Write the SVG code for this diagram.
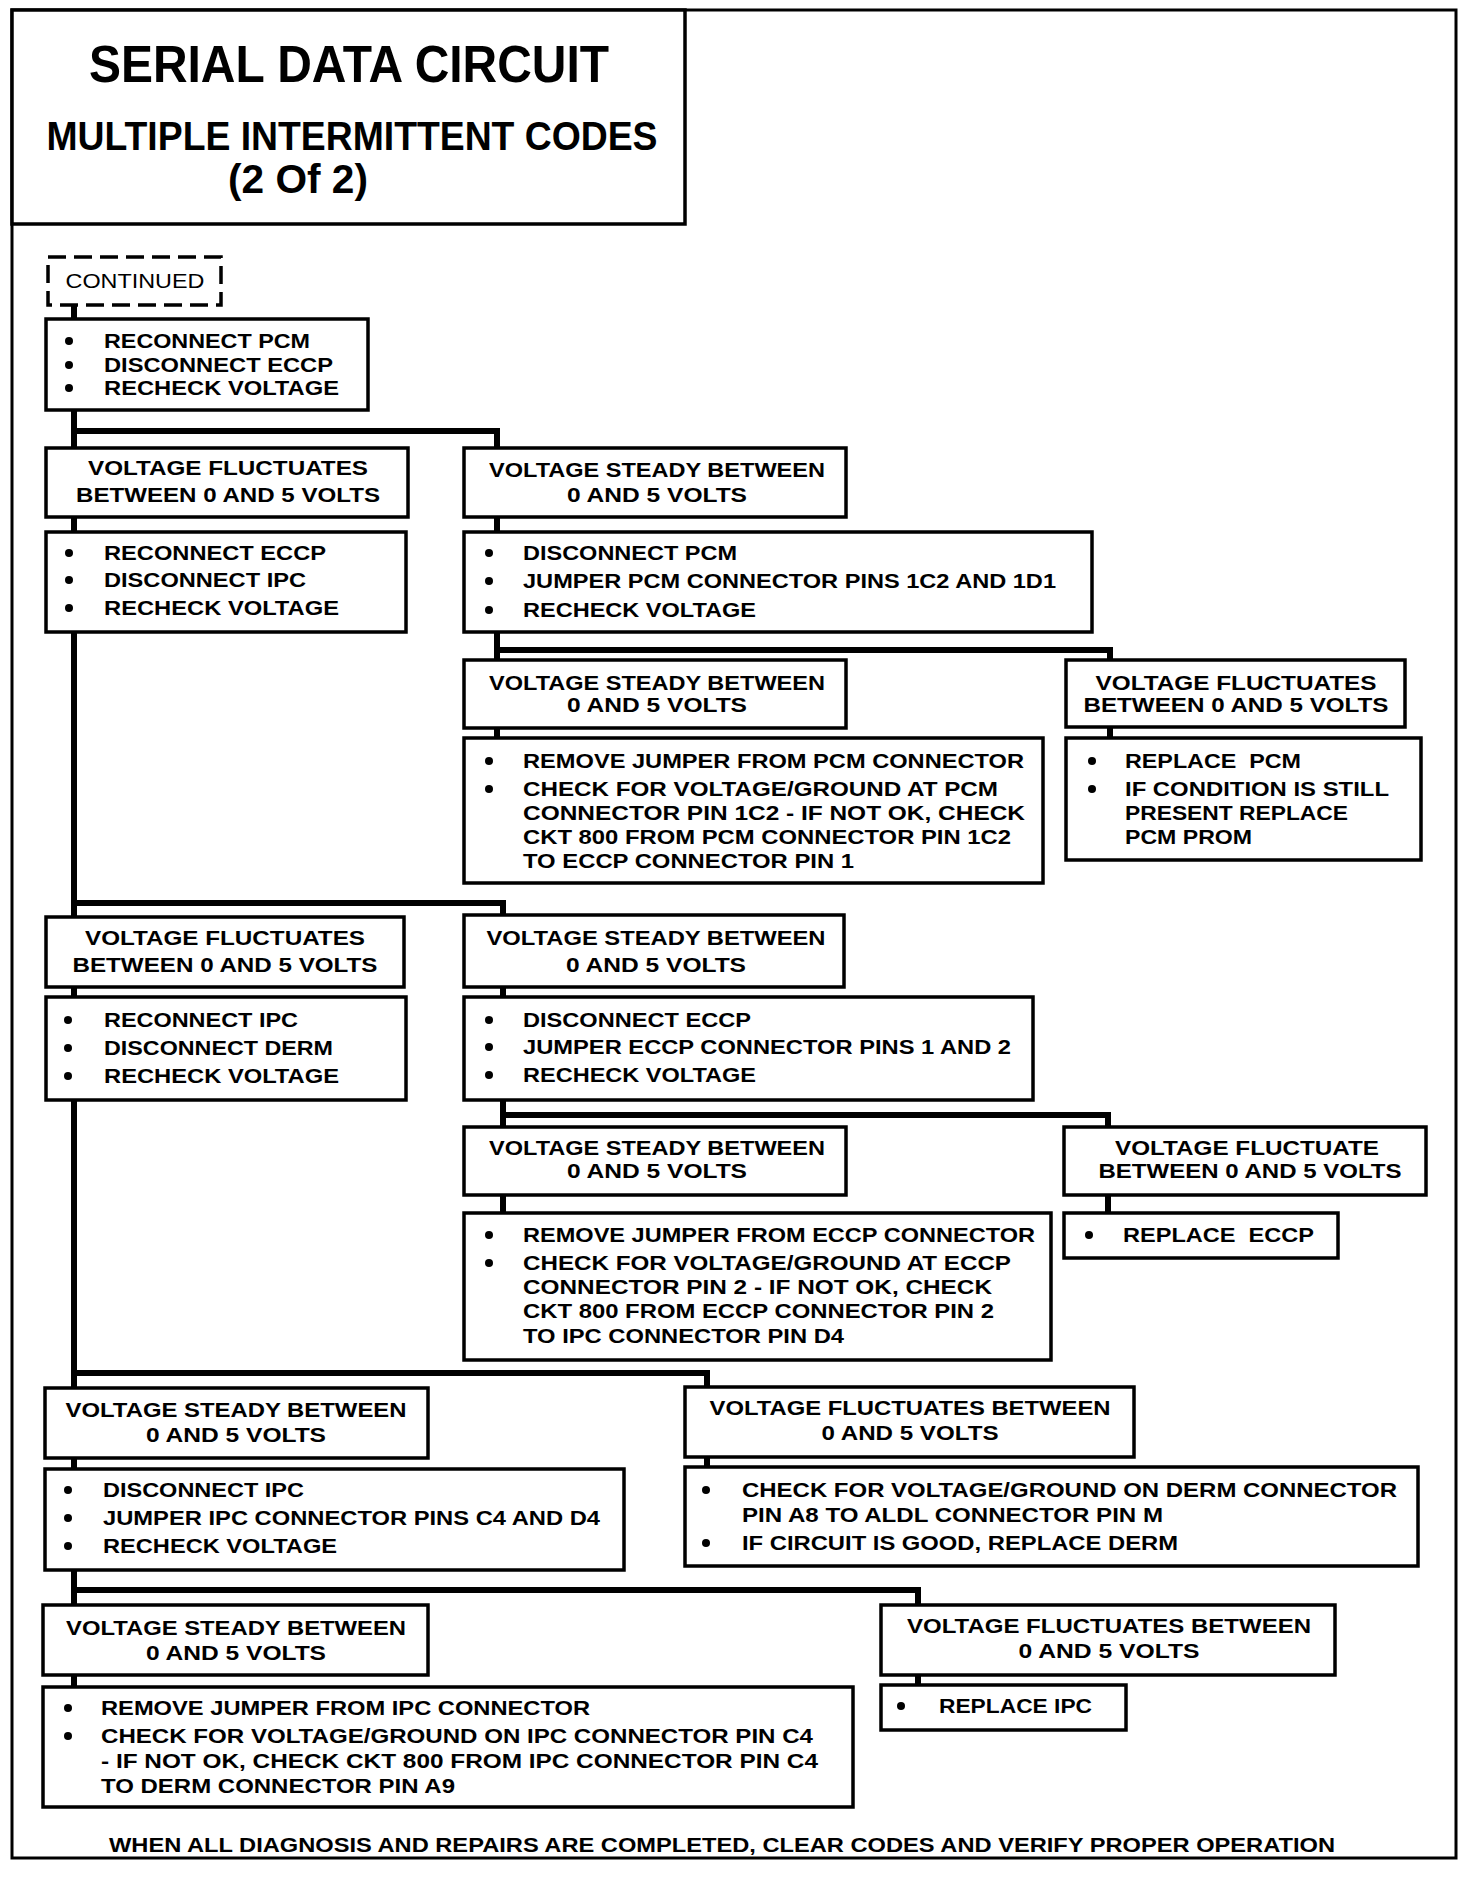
<svg xmlns="http://www.w3.org/2000/svg" xmlns:xlink="http://www.w3.org/1999/xlink" width="1472" height="1892" viewBox="0 0 1472 1892">
<style>
.frame{fill:none;stroke:#000;stroke-width:3}
.box{fill:#fff;stroke:#000;stroke-width:3.5}
.dash{fill:#fff;stroke:#000;stroke-width:3.5;stroke-dasharray:18 8}
.conn{fill:none;stroke:#000;stroke-width:6;stroke-linejoin:miter;stroke-linecap:square}
text{font-family:"Liberation Sans",Arial,Helvetica,sans-serif;font-weight:bold;font-size:21px;fill:#000}
.c{text-anchor:middle}
.n{font-weight:normal}
.h1{font-size:52px}
.h2{font-size:40px}
</style>
<defs>
<circle id="b" r="4" fill="#000"/>
</defs>
<rect width="1472" height="1892" fill="#fff"/>
<rect class="frame" x="12" y="10" width="1444" height="1848"/>

<g id="title">
<rect class="box" x="12" y="10" width="673" height="214"/>
<text class="c h1" x="349" y="82" textLength="520" lengthAdjust="spacingAndGlyphs">SERIAL DATA CIRCUIT</text>
<text class="c h2" x="352" y="150" textLength="611" lengthAdjust="spacingAndGlyphs">MULTIPLE INTERMITTENT CODES</text>
<text class="c h2" x="298" y="193" textLength="140" lengthAdjust="spacingAndGlyphs">(2 Of 2)</text>
</g>

<g id="connectors">
<path class="conn" d="M74 305V319M74 410V448M74 517V532M74 632V917M74 987V997M74 1100V1388M74 1458V1469M74 1570V1605M74 1675V1687"/>
<path class="conn" d="M74 431H497V448M497 517V532M497 632V660M497 728V738M497 650H1110V660M1110 727V738"/>
<path class="conn" d="M74 903H503V915M503 987V997M503 1100V1127M503 1195V1213M503 1115H1108V1127M1108 1195V1213"/>
<path class="conn" d="M74 1373H707V1387M707 1457V1467"/>
<path class="conn" d="M74 1590H918V1605M918 1675V1685"/>
</g>

<g id="continued">
<rect class="dash" x="48" y="257" width="173" height="48"/>
<text class="c n" x="135" y="288" textLength="139" lengthAdjust="spacingAndGlyphs">CONTINUED</text>
</g>

<g id="n1">
<rect class="box" x="46" y="319" width="322" height="91"/>
<use xlink:href="#b" x="69" y="341"/><use xlink:href="#b" x="69" y="365"/><use xlink:href="#b" x="69" y="388"/>
<text x="104" y="348" textLength="206" lengthAdjust="spacingAndGlyphs">RECONNECT PCM</text>
<text x="104" y="372" textLength="229" lengthAdjust="spacingAndGlyphs">DISCONNECT ECCP</text>
<text x="104" y="395" textLength="235" lengthAdjust="spacingAndGlyphs">RECHECK VOLTAGE</text>
</g>

<g id="n2L">
<rect class="box" x="46" y="448" width="362" height="69"/>
<text class="c" x="228" y="475" textLength="280" lengthAdjust="spacingAndGlyphs">VOLTAGE FLUCTUATES</text>
<text class="c" x="228" y="502" textLength="304" lengthAdjust="spacingAndGlyphs">BETWEEN 0 AND 5 VOLTS</text>
</g>

<g id="n3L">
<rect class="box" x="46" y="532" width="360" height="100"/>
<use xlink:href="#b" x="69" y="553"/><use xlink:href="#b" x="69" y="580"/><use xlink:href="#b" x="69" y="608"/>
<text x="104" y="560" textLength="222" lengthAdjust="spacingAndGlyphs">RECONNECT ECCP</text>
<text x="104" y="587" textLength="202" lengthAdjust="spacingAndGlyphs">DISCONNECT IPC</text>
<text x="104" y="615" textLength="235" lengthAdjust="spacingAndGlyphs">RECHECK VOLTAGE</text>
</g>

<g id="n2R">
<rect class="box" x="464" y="448" width="382" height="69"/>
<text class="c" x="657" y="477" textLength="336" lengthAdjust="spacingAndGlyphs">VOLTAGE STEADY BETWEEN</text>
<text class="c" x="657" y="502" textLength="180" lengthAdjust="spacingAndGlyphs">0 AND 5 VOLTS</text>
</g>

<g id="n3R">
<rect class="box" x="464" y="532" width="628" height="100"/>
<use xlink:href="#b" x="489" y="553"/><use xlink:href="#b" x="489" y="581"/><use xlink:href="#b" x="489" y="610"/>
<text x="523" y="560" textLength="214" lengthAdjust="spacingAndGlyphs">DISCONNECT PCM</text>
<text x="523" y="588" textLength="533" lengthAdjust="spacingAndGlyphs">JUMPER PCM CONNECTOR PINS 1C2 AND 1D1</text>
<text x="523" y="617" textLength="233" lengthAdjust="spacingAndGlyphs">RECHECK VOLTAGE</text>
</g>

<g id="n4R">
<rect class="box" x="464" y="660" width="382" height="68"/>
<text class="c" x="657" y="690" textLength="336" lengthAdjust="spacingAndGlyphs">VOLTAGE STEADY BETWEEN</text>
<text class="c" x="657" y="712" textLength="180" lengthAdjust="spacingAndGlyphs">0 AND 5 VOLTS</text>
</g>

<g id="n4RR">
<rect class="box" x="1066" y="660" width="339" height="67"/>
<text class="c" x="1236" y="690" textLength="281" lengthAdjust="spacingAndGlyphs">VOLTAGE FLUCTUATES</text>
<text class="c" x="1236" y="712" textLength="305" lengthAdjust="spacingAndGlyphs">BETWEEN 0 AND 5 VOLTS</text>
</g>

<g id="n5R">
<rect class="box" x="464" y="738" width="579" height="145"/>
<use xlink:href="#b" x="489" y="761"/><use xlink:href="#b" x="489" y="789"/>
<text x="523" y="768" textLength="501" lengthAdjust="spacingAndGlyphs">REMOVE JUMPER FROM PCM CONNECTOR</text>
<text x="523" y="796" textLength="475" lengthAdjust="spacingAndGlyphs">CHECK FOR VOLTAGE/GROUND AT PCM</text>
<text x="523" y="820" textLength="502" lengthAdjust="spacingAndGlyphs">CONNECTOR PIN 1C2 - IF NOT OK, CHECK</text>
<text x="523" y="844" textLength="488" lengthAdjust="spacingAndGlyphs">CKT 800 FROM PCM CONNECTOR PIN 1C2</text>
<text x="523" y="868" textLength="331" lengthAdjust="spacingAndGlyphs">TO ECCP CONNECTOR PIN 1</text>
</g>

<g id="n6R">
<rect class="box" x="1066" y="738" width="355" height="122"/>
<use xlink:href="#b" x="1092" y="761"/><use xlink:href="#b" x="1092" y="789"/>
<text x="1125" y="768" textLength="176" lengthAdjust="spacingAndGlyphs" xml:space="preserve">REPLACE  PCM</text>
<text x="1125" y="796" textLength="264" lengthAdjust="spacingAndGlyphs">IF CONDITION IS STILL</text>
<text x="1125" y="820" textLength="223" lengthAdjust="spacingAndGlyphs">PRESENT REPLACE</text>
<text x="1125" y="844" textLength="127" lengthAdjust="spacingAndGlyphs">PCM PROM</text>
</g>

<g id="n7L">
<rect class="box" x="46" y="917" width="358" height="70"/>
<text class="c" x="225" y="945" textLength="280" lengthAdjust="spacingAndGlyphs">VOLTAGE FLUCTUATES</text>
<text class="c" x="225" y="972" textLength="305" lengthAdjust="spacingAndGlyphs">BETWEEN 0 AND 5 VOLTS</text>
</g>

<g id="n8L">
<rect class="box" x="46" y="997" width="360" height="103"/>
<use xlink:href="#b" x="68" y="1020"/><use xlink:href="#b" x="68" y="1048"/><use xlink:href="#b" x="68" y="1076"/>
<text x="104" y="1027" textLength="194" lengthAdjust="spacingAndGlyphs">RECONNECT IPC</text>
<text x="104" y="1055" textLength="229" lengthAdjust="spacingAndGlyphs">DISCONNECT DERM</text>
<text x="104" y="1083" textLength="235" lengthAdjust="spacingAndGlyphs">RECHECK VOLTAGE</text>
</g>

<g id="n7R">
<rect class="box" x="464" y="915" width="380" height="72"/>
<text class="c" x="656" y="945" textLength="339" lengthAdjust="spacingAndGlyphs">VOLTAGE STEADY BETWEEN</text>
<text class="c" x="656" y="972" textLength="180" lengthAdjust="spacingAndGlyphs">0 AND 5 VOLTS</text>
</g>

<g id="n8R">
<rect class="box" x="464" y="997" width="569" height="103"/>
<use xlink:href="#b" x="489" y="1020"/><use xlink:href="#b" x="489" y="1047"/><use xlink:href="#b" x="489" y="1075"/>
<text x="523" y="1027" textLength="228" lengthAdjust="spacingAndGlyphs">DISCONNECT ECCP</text>
<text x="523" y="1054" textLength="488" lengthAdjust="spacingAndGlyphs">JUMPER ECCP CONNECTOR PINS 1 AND 2</text>
<text x="523" y="1082" textLength="233" lengthAdjust="spacingAndGlyphs">RECHECK VOLTAGE</text>
</g>

<g id="n9R">
<rect class="box" x="464" y="1127" width="382" height="68"/>
<text class="c" x="657" y="1155" textLength="336" lengthAdjust="spacingAndGlyphs">VOLTAGE STEADY BETWEEN</text>
<text class="c" x="657" y="1178" textLength="180" lengthAdjust="spacingAndGlyphs">0 AND 5 VOLTS</text>
</g>

<g id="n9RR">
<rect class="box" x="1064" y="1127" width="362" height="68"/>
<text class="c" x="1247" y="1155" textLength="264" lengthAdjust="spacingAndGlyphs">VOLTAGE FLUCTUATE</text>
<text class="c" x="1250" y="1178" textLength="303" lengthAdjust="spacingAndGlyphs">BETWEEN 0 AND 5 VOLTS</text>
</g>

<g id="n10R">
<rect class="box" x="464" y="1213" width="587" height="147"/>
<use xlink:href="#b" x="489" y="1235"/><use xlink:href="#b" x="489" y="1263"/>
<text x="523" y="1242" textLength="512" lengthAdjust="spacingAndGlyphs">REMOVE JUMPER FROM ECCP CONNECTOR</text>
<text x="523" y="1270" textLength="488" lengthAdjust="spacingAndGlyphs">CHECK FOR VOLTAGE/GROUND AT ECCP</text>
<text x="523" y="1294" textLength="469" lengthAdjust="spacingAndGlyphs">CONNECTOR PIN 2 - IF NOT OK, CHECK</text>
<text x="523" y="1318" textLength="471" lengthAdjust="spacingAndGlyphs">CKT 800 FROM ECCP CONNECTOR PIN 2</text>
<text x="523" y="1343" textLength="321" lengthAdjust="spacingAndGlyphs">TO IPC CONNECTOR PIN D4</text>
</g>

<g id="n11RR">
<rect class="box" x="1064" y="1213" width="274" height="45"/>
<use xlink:href="#b" x="1089" y="1235"/>
<text x="1123" y="1242" textLength="191" lengthAdjust="spacingAndGlyphs" xml:space="preserve">REPLACE  ECCP</text>
</g>

<g id="n12L">
<rect class="box" x="45" y="1388" width="383" height="70"/>
<text class="c" x="236" y="1417" textLength="341" lengthAdjust="spacingAndGlyphs">VOLTAGE STEADY BETWEEN</text>
<text class="c" x="236" y="1442" textLength="180" lengthAdjust="spacingAndGlyphs">0 AND 5 VOLTS</text>
</g>

<g id="n13L">
<rect class="box" x="45" y="1469" width="579" height="101"/>
<use xlink:href="#b" x="68" y="1490"/><use xlink:href="#b" x="68" y="1518"/><use xlink:href="#b" x="68" y="1546"/>
<text x="103" y="1497" textLength="201" lengthAdjust="spacingAndGlyphs">DISCONNECT IPC</text>
<text x="103" y="1525" textLength="497" lengthAdjust="spacingAndGlyphs">JUMPER IPC CONNECTOR PINS C4 AND D4</text>
<text x="103" y="1553" textLength="234" lengthAdjust="spacingAndGlyphs">RECHECK VOLTAGE</text>
</g>

<g id="n12R">
<rect class="box" x="685" y="1387" width="449" height="70"/>
<text class="c" x="910" y="1415" textLength="401" lengthAdjust="spacingAndGlyphs">VOLTAGE FLUCTUATES BETWEEN</text>
<text class="c" x="910" y="1440" textLength="177" lengthAdjust="spacingAndGlyphs">0 AND 5 VOLTS</text>
</g>

<g id="n13R">
<rect class="box" x="685" y="1467" width="733" height="99"/>
<use xlink:href="#b" x="706" y="1490"/><use xlink:href="#b" x="706" y="1543"/>
<text x="742" y="1497" textLength="655" lengthAdjust="spacingAndGlyphs">CHECK FOR VOLTAGE/GROUND ON DERM CONNECTOR</text>
<text x="742" y="1522" textLength="421" lengthAdjust="spacingAndGlyphs">PIN A8 TO ALDL CONNECTOR PIN M</text>
<text x="742" y="1550" textLength="436" lengthAdjust="spacingAndGlyphs">IF CIRCUIT IS GOOD, REPLACE DERM</text>
</g>

<g id="n14L">
<rect class="box" x="43" y="1605" width="385" height="70"/>
<text class="c" x="236" y="1635" textLength="340" lengthAdjust="spacingAndGlyphs">VOLTAGE STEADY BETWEEN</text>
<text class="c" x="236" y="1660" textLength="180" lengthAdjust="spacingAndGlyphs">0 AND 5 VOLTS</text>
</g>

<g id="n15L">
<rect class="box" x="43" y="1687" width="810" height="120"/>
<use xlink:href="#b" x="68" y="1708"/><use xlink:href="#b" x="68" y="1736"/>
<text x="101" y="1715" textLength="489" lengthAdjust="spacingAndGlyphs">REMOVE JUMPER FROM IPC CONNECTOR</text>
<text x="101" y="1743" textLength="712" lengthAdjust="spacingAndGlyphs">CHECK FOR VOLTAGE/GROUND ON IPC CONNECTOR PIN C4</text>
<text x="101" y="1768" textLength="717" lengthAdjust="spacingAndGlyphs">- IF NOT OK, CHECK CKT 800 FROM IPC CONNECTOR PIN C4</text>
<text x="101" y="1793" textLength="354" lengthAdjust="spacingAndGlyphs">TO DERM CONNECTOR PIN A9</text>
</g>

<g id="n14R">
<rect class="box" x="881" y="1605" width="454" height="70"/>
<text class="c" x="1109" y="1633" textLength="404" lengthAdjust="spacingAndGlyphs">VOLTAGE FLUCTUATES BETWEEN</text>
<text class="c" x="1109" y="1658" textLength="181" lengthAdjust="spacingAndGlyphs">0 AND 5 VOLTS</text>
</g>

<g id="n15R">
<rect class="box" x="881" y="1685" width="245" height="45"/>
<use xlink:href="#b" x="901" y="1706"/>
<text x="939" y="1713" textLength="153" lengthAdjust="spacingAndGlyphs">REPLACE IPC</text>
</g>

<g id="footer">
<text x="109" y="1852" textLength="1226" lengthAdjust="spacingAndGlyphs">WHEN ALL DIAGNOSIS AND REPAIRS ARE COMPLETED, CLEAR CODES AND VERIFY PROPER OPERATION</text>
</g>
</svg>
